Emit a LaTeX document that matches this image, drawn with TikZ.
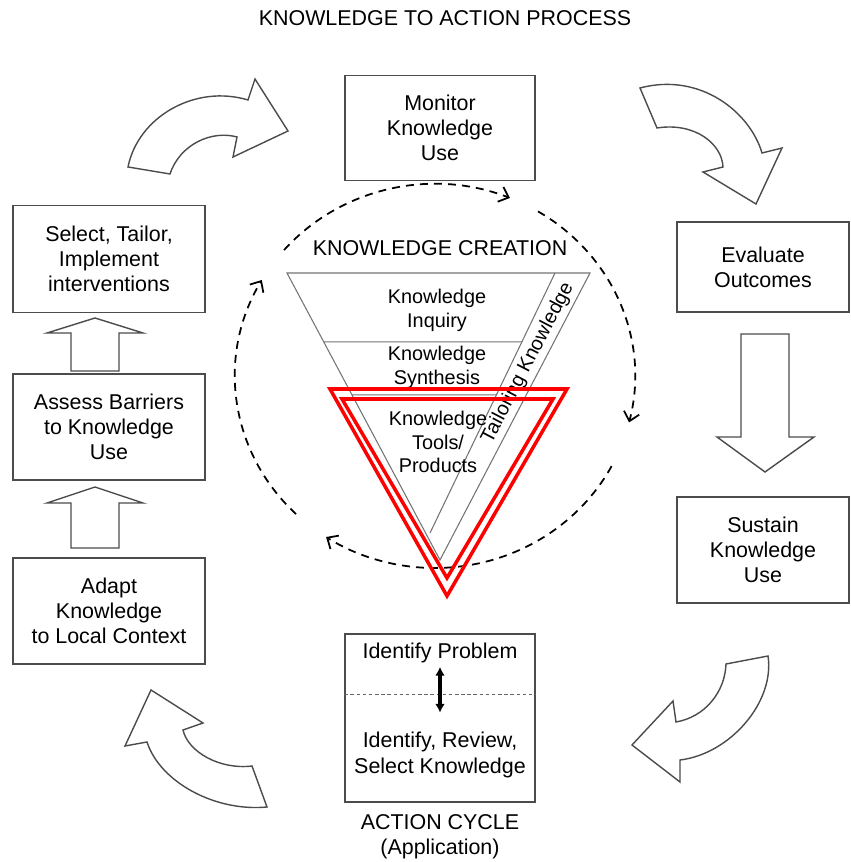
\documentclass[tikz,border=0pt]{standalone}
\usepackage{fontspec}
\setmainfont{Liberation Sans}
\usetikzlibrary{arrows.meta,calc}

\tikzset{
  kbox/.style={draw=black!70, line width=0.8pt, align=center, inner sep=0pt,
    font=\fontsize{12.2}{14.4}\selectfont},
  ktext/.style={align=center, inner sep=0pt, font=\fontsize{12.2}{14.4}\selectfont},
  ftext/.style={align=center, inner sep=0pt, font=\fontsize{11.3}{13.6}\selectfont},
  fatarrow/.style={draw=black!70, line width=0.8pt, fill=white},
  funnel/.style={draw=black!55, line width=0.6pt},
  redtri/.style={draw=red, line width=2pt},
  kcycle/.style={dash pattern=on 4.5pt off 3.5pt, line width=1pt,
    -{Straight Barb[length=5pt,width=9pt]}},
}

\begin{document}
\begin{tikzpicture}[x=0.02cm,y=0.02cm]
\useasboundingbox (0,0) rectangle (851,862);

  %draw title
  \node[ktext] (title) at (445,844) {KNOWLEDGE TO ACTION PROCESS};

  %draw action cycle boxes
  \node[kbox, minimum width=3.8cm, minimum height=2.1cm] (monitor) at (440,734) {Monitor\\Knowledge\\Use};
  \node[kbox, minimum width=3.84cm, minimum height=2.14cm] (select) at (109,603) {Select, Tailor,\\Implement\\interventions};
  \node[kbox, minimum width=3.44cm, minimum height=1.8cm] (evaluate) at (763,595) {Evaluate\\Outcomes};
  \node[kbox, minimum width=3.84cm, minimum height=2.12cm] (assess) at (109,435) {Assess Barriers\\to Knowledge\\Use};
  \node[kbox, minimum width=3.44cm, minimum height=2.12cm] (sustain) at (763,312) {Sustain\\Knowledge\\Use};
  \node[kbox, minimum width=3.84cm, minimum height=2.12cm] (adapt) at (109,251) {Adapt\\Knowledge\\to Local Context};
  \node[kbox, minimum width=3.8cm, minimum height=3.36cm] (identify) at (440,144) {};

  %draw inside of the identify box
  \draw[black!60, line width=0.5pt, dash pattern=on 2pt off 1.5pt]
    ($(identify.west)+(0,24)$) -- ($(identify.east)+(0,24)$);
  \node[ktext] (problem) at (440,209) {Identify Problem};
  \node[ktext] (review) at (440,107) {Identify, Review,\\Select Knowledge};
  \draw[line width=1.9pt, {Latex[length=5pt,width=5.5pt]}-{Latex[length=5pt,width=5.5pt]},
    shorten <=2, shorten >=11] (problem.south) -- (review.north);
  \node[ktext] (action) at (440,25) {ACTION CYCLE\\(Application)};

  %draw straight block arrows
  \foreach \yb/\yw/\yt in {491/529/544, 314/359/375} {
    \draw[fatarrow] (71,\yb) -- (71,\yw) -- (47,\yw) -- (95,\yt) -- (143,\yw)
      -- (119,\yw) -- (119,\yb) -- cycle;
  }
  \draw[fatarrow] (741,528) -- (741,425) -- (717,425) -- (765,390) -- (814,425)
    -- (789,425) -- (789,528) -- cycle;

  %draw curved block arrows
  \draw[fatarrow] (128,695) .. controls (138,745) and (195,778) .. (248,762)
    -- (255,783) -- (288,731) -- (233,705) -- (237,725)
    .. controls (212,732) and (180,718) .. (170,688) -- cycle;
  \draw[fatarrow] (640,774) .. controls (700,790) and (750,750) .. (762,709)
    -- (782,714) -- (756,658) -- (703,690) -- (723,695)
    .. controls (722,718) and (695,740) .. (657,734) -- cycle;
  \draw[fatarrow] (768,206) .. controls (775,160) and (730,108) .. (680,102)
    -- (680,80) -- (632,117) -- (673,161) -- (676,140)
    .. controls (705,145) and (725,170) .. (726,198) -- cycle;
  \draw[fatarrow] (151,172) -- (203,139) -- (183,132)
    .. controls (188,110) and (220,92) .. (252,96)
    -- (267,55) .. controls (215,50) and (160,80) .. (147,120)
    -- (125,116) -- cycle;

  %draw dashed cycle round the funnel
  \coordinate (kc) at (435,486);
  \draw[kcycle] ($(kc)+(139:200 and 192)$) arc[start angle=139, end angle=68, x radius=200, y radius=192];
  \draw[kcycle] ($(kc)+(59:200 and 192)$) arc[start angle=59, end angle=-14, x radius=200, y radius=192];
  \draw[kcycle] ($(kc)+(-28:200 and 192)$) arc[start angle=-28, end angle=-123, x radius=200, y radius=192];
  \draw[kcycle] ($(kc)+(226:200 and 192)$) arc[start angle=226, end angle=150, x radius=200, y radius=192];

  %draw knowledge creation funnel
  \node[ktext] (creation) at (440,614) {KNOWLEDGE CREATION};
  \coordinate (ftl) at (287,589);
  \coordinate (ftr) at (590,589);
  \coordinate (fapex) at (440,302);
  \coordinate (ttop) at (555,589);
  \coordinate (tbot) at (430,329);
  \draw[funnel] (ftl) -- (ftr) -- (fapex) -- cycle;
  \draw[funnel] (ttop) -- (tbot);
  \draw[funnel] ($(ftl)!0.240!(fapex)$) -- ($(ttop)!0.265!(tbot)$);
  \draw[funnel] ($(ftl)!0.425!(fapex)$) -- ($(ttop)!0.469!(tbot)$);
  \node[ftext] (inquiry) at (437,552) {Knowledge\\Inquiry};
  \node[ftext] (synthesis) at (437,495) {Knowledge\\Synthesis};
  \node[ftext] (tools) at (438,420) {Knowledge\\Tools/\\Products};
  \node[ftext, rotate=62.5] (tailor) at (528,499) {Tailoring Knowledge};

  %draw red triangles
  \draw[redtri] (330,473) -- (567,473) -- (447,266) -- cycle;
  \draw[redtri] (342,463) -- (553,463) -- (447,284) -- cycle;
\end{tikzpicture}
\end{document}
